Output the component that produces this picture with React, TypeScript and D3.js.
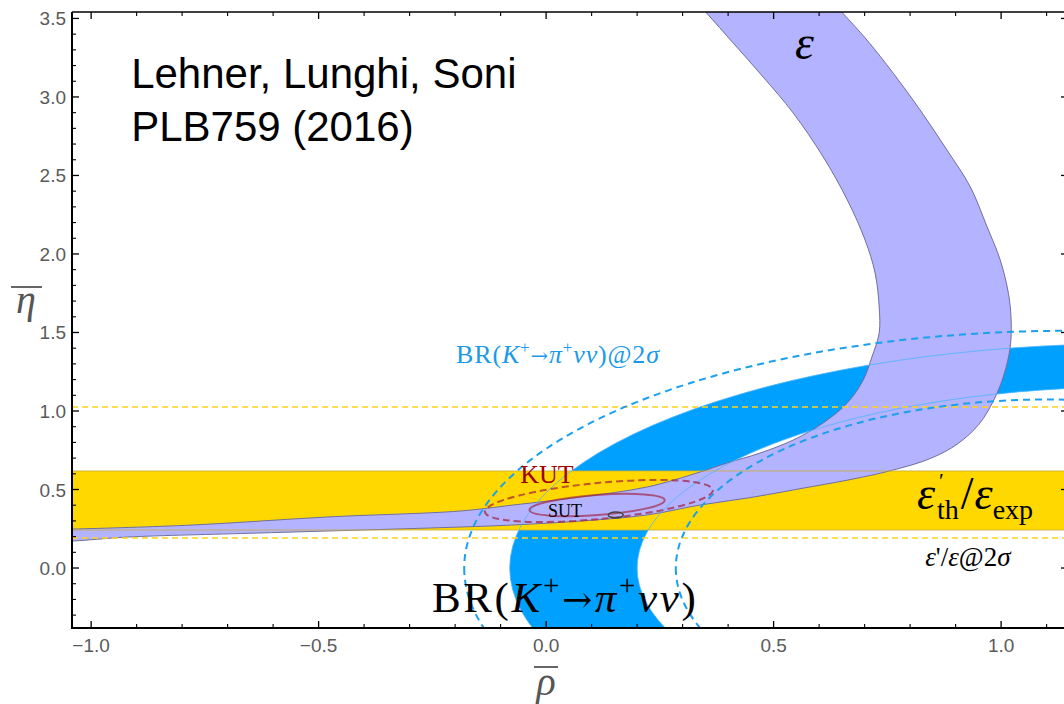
import React from "react";
import * as d3 from "d3";

// ---------------- data (rho-bar, eta-bar plane) ----------------
const rhoDomain: [number, number] = [-1.042, 1.147];
const etaDomain: [number, number] = [-0.382, 3.541];

const rhoMajorTicks = [-1.0, -0.5, 0.0, 0.5, 1.0];
const etaMajorTicks = [0.0, 0.5, 1.0, 1.5, 2.0, 2.5, 3.0, 3.5];

// epsilon'/epsilon band (horizontal) and its 2 sigma lines
const epsPrimeBand = [0.242, 0.618];
const epsPrime2Sigma = [0.191, 1.025];

// epsilon_K band: outer (right / lower) and inner (left / upper) edges
const epsKOuter: [number, number][] = [
  [0.607, 3.68], [0.651, 3.537], [0.705, 3.363], [0.763, 3.151], [0.822, 2.917],
  [0.881, 2.662], [0.932, 2.429], [0.969, 2.174], [0.998, 1.962], [1.016, 1.75],
  [1.022, 1.58], [1.02, 1.408], [1.006, 1.229], [0.984, 1.07], [0.952, 0.918],
  [0.905, 0.792], [0.845, 0.698], [0.76, 0.622], [0.668, 0.563], [0.558, 0.505],
  [0.448, 0.448], [0.338, 0.401], [0.222, 0.338], [0.075, 0.299], [-0.073, 0.274],
  [-0.189, 0.261], [-0.629, 0.223], [-0.921, 0.197], [-1.04, 0.172], [-1.12, 0.166],
];
const epsKInner: [number, number][] = [
  [0.308, 3.68], [0.352, 3.537], [0.411, 3.344], [0.477, 3.127], [0.543, 2.898],
  [0.609, 2.618], [0.662, 2.344], [0.701, 2.089], [0.723, 1.879], [0.732, 1.662],
  [0.732, 1.497], [0.716, 1.344], [0.697, 1.197], [0.662, 1.051], [0.609, 0.924],
  [0.543, 0.815], [0.47, 0.732], [0.398, 0.669], [0.338, 0.611], [0.222, 0.516],
  [0.075, 0.452], [-0.073, 0.401], [-0.189, 0.363], [-0.481, 0.325], [-0.776, 0.274],
  [-1.04, 0.248], [-1.12, 0.243],
];

// BR(K+ -> pi+ nu nu) ellipses: [rho centre, eta centre, semi-axis rho, semi-axis eta]
const kaonOuter = [1.3, 0.0, 1.38, 1.43];
const kaonInner = [1.3, 0.0, 1.1, 1.155];
const kaon2SigmaOuter = [1.15, 0.0, 1.33, 1.51];
const kaon2SigmaInner = [1.1, 0.0, 0.815, 1.073];

// fit ellipses: [rho centre, eta centre, semi-axis rho, semi-axis eta, tilt deg]
const kutEllipse = [0.116, 0.427, 0.2516, 0.115, -5.5];
const sutEllipse = [0.112, 0.401, 0.149, 0.064, -4.2];
const bestFitEllipse = [0.153, 0.338, 0.0165, 0.019, 0];

// ---------------- layout ----------------
const W = 1064;
const H = 704;
const left = 72, right = 1068, top = 12, bottom = 628;

const x = d3.scaleLinear().domain(rhoDomain).range([left, right]);
const y = d3.scaleLinear().domain(etaDomain).range([bottom, top]);

const serif = "'Liberation Serif', 'DejaVu Serif', serif";
const arrowFont = "'DejaVu Serif', serif";
const sans = "'Liberation Sans', Arial, sans-serif";

function ellipsePath(e: number[]) {
  const [rc, ec, a, b] = e;
  const cx = x(rc), cy = y(ec);
  const rx = x(rc + a) - cx;
  const ry = cy - y(ec + b);
  return `M${cx - rx},${cy}A${rx},${ry} 0 1 0 ${cx + rx},${cy}A${rx},${ry} 0 1 0 ${cx - rx},${cy}Z`;
}

function tiltedEllipse(e: number[], props: any) {
  const [rc, ec, a, b, ang] = e;
  const cx = x(rc), cy = y(ec);
  const rx = x(rc + a) - cx;
  const ry = cy - y(ec + b);
  return (
    <ellipse cx={cx} cy={cy} rx={rx} ry={ry}
      transform={`rotate(${ang} ${cx} ${cy})`} fill="none" {...props} />
  );
}

const bandLine = d3.line<[number, number]>()
  .x((d) => x(d[0]))
  .y((d) => y(d[1]))
  .curve(d3.curveCatmullRom.alpha(0.5));

function epsKPath() {
  const outer = bandLine(epsKOuter) as string;
  const inner = bandLine([...epsKInner].reverse()) as string;
  return outer + "L" + inner.slice(1) + "Z";
}

const fmt = (v: number) => (v < 0 ? "\u2212" : "") + Math.abs(v).toFixed(1);

export default function App() {
  const rhoMinor = d3.range(-10, 12).map((i) => i / 10).filter((v) => !rhoMajorTicks.some((m) => Math.abs(m - v) < 1e-6));
  const etaMinor = d3.range(-3, 36).map((i) => i / 10).filter((v) => !etaMajorTicks.some((m) => Math.abs(m - v) < 1e-6));

  const yellow = "#ffd800";
  const blue = "#00a0ff";
  const lav = "#b3b3ff";

  const epX = x(0.815);
  const epY = y(0.376);

  return (
    <svg width={W} height={H} style={{ position: "absolute", left: 0, top: 0, background: "#fff" }}>
      <defs>
        <clipPath id="plotClip">
          <rect x={left} y={top} width={right - left} height={bottom - top} />
        </clipPath>
      </defs>

      <g clipPath="url(#plotClip)">
        {/* BR(K+ -> pi+ nu nu) band */}
        <path d={ellipsePath(kaonOuter) + ellipsePath(kaonInner)} fill={blue} fillRule="evenodd" stroke="none" />

        {/* epsilon'/epsilon band */}
        <rect x={left} width={right - left} y={y(epsPrimeBand[1])}
          height={y(epsPrimeBand[0]) - y(epsPrimeBand[1])} fill={yellow} />

        {/* epsilon_K band */}
        <path d={epsKPath()} fill={lav} stroke="#6f6f9c" strokeWidth={1} />

        {/* band edges drawn over the fills */}
        {epsPrimeBand.map((v, i) => (
          <line key={"ye" + i} x1={left} x2={right} y1={y(v)} y2={y(v)} stroke="#c9ae3a" strokeWidth={1} opacity={0.8} />
        ))}
        <path d={ellipsePath(kaonOuter)} fill="none" stroke="#4fb4ff" strokeWidth={1} opacity={0.8} />
        <path d={ellipsePath(kaonInner)} fill="none" stroke="#4fb4ff" strokeWidth={1} opacity={0.8} />

        {/* 2 sigma contours */}
        {epsPrime2Sigma.map((v, i) => (
          <line key={"yd" + i} x1={left} x2={right} y1={y(v)} y2={y(v)} stroke="#ffd21a" strokeWidth={1.6} strokeDasharray="6,4" />
        ))}
        <path d={ellipsePath(kaon2SigmaOuter)} fill="none" stroke="#1aa0ee" strokeWidth={2} strokeDasharray="7,5" />
        <path d={ellipsePath(kaon2SigmaInner)} fill="none" stroke="#1aa0ee" strokeWidth={2} strokeDasharray="7,5" />

        {/* unitarity-triangle fits */}
        {tiltedEllipse(kutEllipse, { stroke: "#a51e3c", strokeOpacity: 0.7, strokeWidth: 2, strokeDasharray: "7,4" })}
        {tiltedEllipse(sutEllipse, { stroke: "#a51e3c", strokeOpacity: 0.65, strokeWidth: 2 })}
        {tiltedEllipse(bestFitEllipse, { stroke: "#444", strokeWidth: 1.5 })}

        {/* annotations */}
        <text x={x(-0.912)} y={y(3.057)} fontFamily={sans} fontSize={42} fill="#000">Lehner, Lunghi, Soni</text>
        <text x={x(-0.912)} y={y(2.72)} fontFamily={sans} fontSize={42} fill="#000">PLB759 (2016)</text>

        <text x={x(0.547)} y={y(3.242)} fontFamily={serif} fontSize={48} fontStyle="italic" fill="#000">ε</text>

        <text x={x(-0.198)} y={y(1.306)} fontFamily={serif} fontSize={26} fill="#1a9ae8"
          textLength={203} lengthAdjust="spacing">
          BR(<tspan fontStyle="italic">K</tspan>
          <tspan fontSize={17} dy={-10}>+</tspan>
          <tspan dy={10} fontFamily={arrowFont} fontSize={21}>→</tspan>
          <tspan fontStyle="italic">π</tspan>
          <tspan fontSize={17} dy={-10}>+</tspan>
          <tspan dy={10} fontStyle="italic">νν</tspan>)@2<tspan fontStyle="italic">σ</tspan>
        </text>

        <text x={x(-0.057)} y={y(0.541)} fontFamily={serif} fontSize={26} fill="#a00000">KUT</text>
        <text x={x(0.004)} y={y(0.325)} fontFamily={serif} fontSize={18} fill="#000">SUT</text>

        <text x={x(-0.251)} y={y(-0.28)} fontFamily={serif} fontSize={43} fill="#000"
          textLength={264} lengthAdjust="spacing">
          BR(<tspan fontStyle="italic">K</tspan>
          <tspan fontSize={29} dy={-17}>+</tspan>
          <tspan dy={17} fontFamily={arrowFont} fontSize={36}>→</tspan>
          <tspan fontStyle="italic">π</tspan>
          <tspan fontSize={29} dy={-17}>+</tspan>
          <tspan dy={17} fontStyle="italic">νν</tspan>)
        </text>

        <text x={epX} y={epY} fontFamily={serif} fontSize={46} fontStyle="italic" fill="#000">ε</text>
        <text x={epX + 22} y={epY - 21} fontFamily={serif} fontSize={22} fill="#000">′</text>
        <text x={epX + 20} y={epY + 10} fontFamily={serif} fontSize={28} fill="#000">
          th<tspan dx={2} dy={-10} fontSize={46}>/</tspan>
          <tspan dx={1} fontStyle="italic" fontSize={46}>ε</tspan>
          <tspan fontSize={28} dy={10}>exp</tspan>
        </text>

        <text x={x(0.833)} y={y(0.013)} fontFamily={serif} fontSize={27} fill="#000">
          <tspan fontStyle="italic">ε</tspan>'/<tspan fontStyle="italic">ε</tspan>@2<tspan fontStyle="italic">σ</tspan>
        </text>
      </g>

      {/* frame */}
      <line x1={left} x2={left} y1={top} y2={bottom + 1} stroke="#000" strokeWidth={2} />
      <line x1={left - 1} x2={right} y1={bottom} y2={bottom} stroke="#000" strokeWidth={2} />
      <line x1={left} x2={right} y1={top} y2={top} stroke="#000" strokeWidth={1.3} />
      <line x1={right} x2={right} y1={top} y2={bottom} stroke="#000" strokeWidth={1.3} />

      {/* ticks */}
      {rhoMajorTicks.map((v) => (
        <g key={"xm" + v}>
          <line x1={x(v)} x2={x(v)} y1={bottom} y2={bottom - 7} stroke="#000" strokeWidth={1.3} />
          <line x1={x(v)} x2={x(v)} y1={top} y2={top + 7} stroke="#000" strokeWidth={1.3} />
          <text x={x(v)} y={bottom + 24} textAnchor="middle" fontFamily={sans} fontSize={19} fill="#5a5a5a">{fmt(v)}</text>
        </g>
      ))}
      {rhoMinor.map((v) => (
        <g key={"xn" + v}>
          <line x1={x(v)} x2={x(v)} y1={bottom} y2={bottom - 4} stroke="#000" strokeWidth={1.1} />
          <line x1={x(v)} x2={x(v)} y1={top} y2={top + 4} stroke="#000" strokeWidth={1.1} />
        </g>
      ))}
      {etaMajorTicks.map((v) => (
        <g key={"ym" + v}>
          <line x1={left} x2={left + 7} y1={y(v)} y2={y(v)} stroke="#000" strokeWidth={1.3} />
          <line x1={right} x2={right - 7} y1={y(v)} y2={y(v)} stroke="#000" strokeWidth={1.3} />
          <text x={left - 6} y={y(v) + 7} textAnchor="end" fontFamily={sans} fontSize={19} fill="#5a5a5a">{fmt(v)}</text>
        </g>
      ))}
      {etaMinor.map((v) => (
        <g key={"yn" + v}>
          <line x1={left} x2={left + 4} y1={y(v)} y2={y(v)} stroke="#000" strokeWidth={1.1} />
          <line x1={right} x2={right - 4} y1={y(v)} y2={y(v)} stroke="#000" strokeWidth={1.1} />
        </g>
      ))}

      {/* axis labels */}
      <g fill="#555" stroke="#555">
        <text x={26} y={313} textAnchor="middle" fontFamily={serif} fontSize={40} fontStyle="italic" stroke="none">η</text>
        <line x1={11} x2={42} y1={287} y2={287} strokeWidth={1.8} />
        <text x={546} y={695} textAnchor="middle" fontFamily={serif} fontSize={40} fontStyle="italic" stroke="none">ρ</text>
        <line x1={534} x2={558} y1={667} y2={667} strokeWidth={1.8} />
      </g>
    </svg>
  );
}
